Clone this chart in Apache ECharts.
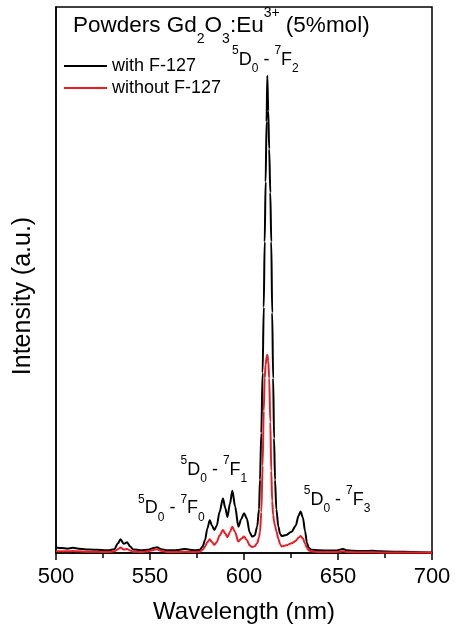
<!DOCTYPE html>
<html>
<head>
<meta charset="utf-8">
<script src="https://cdn.jsdelivr.net/npm/echarts@6/dist/echarts.min.js"></script>
<style>
  html, body { margin: 0; padding: 0; background: #fff; }
  #chart { width: 462px; height: 630px; }
</style>
</head>
<body>
<div id="chart"></div>
<script>
// Photoluminescence emission spectra of Gd2O3:Eu3+ powders (arbitrary units)
const wavelength = [
  500, 503, 506, 509, 512, 516, 520, 524, 528, 531,
  533, 534.3, 536, 537.8, 539.5, 541, 545, 549, 552, 553.7,
  556, 559, 563, 566, 568.5, 571, 574, 576.6, 578, 579.3,
  580.5, 581.8, 583, 584.2, 585.5, 587, 588.8, 590, 591.2, 592.5,
  593.8, 595.3, 597, 598.5, 600, 601.5, 603, 604.3, 605.7, 607,
  608, 608.5, 609.2, 609.9, 610.5, 611, 611.5, 612, 612.4, 612.9,
  613.4, 614, 614.5, 615, 615.5, 616, 616.5, 617.2, 618.3, 619.2,
  620.1, 622.5, 625.3, 627.5, 629, 630.1, 631.3, 632.5, 633.5, 634.5,
  636, 640, 645, 649, 651, 652.8, 654.5, 658, 663, 668,
  672, 680, 690, 700
];

const withF127 = [
  1.0, 0.9, 0.8, 0.95, 0.8, 0.65, 0.6, 0.55, 0.5, 0.7,
  1.8, 2.5, 1.7, 1.95, 1.2, 0.65, 0.5, 0.6, 0.9, 1.05,
  0.7, 0.5, 0.5, 0.6, 0.75, 0.6, 0.5, 0.6, 1.2, 2.4,
  4.5, 6.0, 5.0, 4.2, 5.0, 7.5, 10.0, 8.3, 6.6, 9.0,
  11.4, 8.5, 4.8, 6.2, 7.3, 6.3, 3.8, 3.0, 3.2, 4.8,
  8.0, 13.4, 22, 33, 45, 57, 68, 79, 87.4, 81,
  74, 66, 57, 44, 32, 21, 13.4, 8.0, 4.8, 3.5,
  3.1, 3.3, 3.9, 5.0, 6.8, 7.6, 6.5, 4.0, 1.8, 0.9,
  0.6, 0.5, 0.45, 0.45, 0.6, 0.75, 0.5, 0.4, 0.35, 0.4,
  0.3, 0.25, 0.2, 0.1
];

const withoutF127 = [
  0.3, 0.3, 0.3, 0.35, 0.3, 0.25, 0.25, 0.2, 0.2, 0.3,
  0.7, 1.0, 0.65, 0.75, 0.45, 0.25, 0.2, 0.3, 0.55, 0.7,
  0.4, 0.2, 0.2, 0.2, 0.25, 0.2, 0.2, 0.25, 0.6, 1.2,
  2.0, 2.5, 2.0, 1.5, 2.0, 3.2, 4.2, 3.6, 2.9, 3.8,
  4.8, 3.8, 2.1, 2.6, 3.0, 2.4, 1.4, 1.1, 1.25, 1.8,
  2.9, 3.8, 7.5, 16, 26, 32, 34.5, 35.8, 36.3, 35.2,
  32, 24, 15, 9.5, 7.0, 5.8, 5.0, 4.0, 2.6, 1.6,
  1.2, 1.4, 1.8, 2.2, 2.8, 3.1, 2.7, 1.7, 0.9, 0.45,
  0.3, 0.2, 0.2, 0.2, 0.25, 0.3, 0.2, 0.15, 0.15, 0.15,
  0.1, 0.1, 0.08, 0.05
];

const seriesNames = ['with F-127', 'without F-127'];
const seriesColors = ['#000000', '#ed1c24'];

// Transition labels: anchor wavelength, anchor intensity, J of the 7F_J level
const transitionNm = [611.4, 584, 561.4, 649.5];
const transitionLevel = [90.3, 15.2, 8.2, 9.7];
const transitionJ = ['2', '1', '0', '3'];

const xTicks = [500, 550, 600, 650, 700];

const FONT = '"Liberation Sans", Arial, Helvetica, sans-serif';

function pairs(xs, ys) {
  return xs.map((x, i) => [x, ys[i]]);
}

const chart = echarts.init(document.getElementById('chart'), null, { renderer: 'canvas' });

const annotationData = transitionNm.map((nm, i) => ({
  value: [nm, transitionLevel[i]],
  label: { formatter: '{sup|5}{m|D}{sub|0}{m| - }{sup|7}{m|F}{sub|' + transitionJ[i] + '}' }
}));

chart.setOption({
  animation: false,
  backgroundColor: '#ffffff',
  textStyle: { fontFamily: FONT, color: '#000' },
  title: {
    left: 73,
    top: 6,
    padding: 0,
    text: '{a|Powders Gd}{sub|2}{a|O}{sub|3}{a|:Eu}{sup|3+}{a| (5%mol)}',
    textStyle: {
      fontFamily: FONT,
      fontWeight: 'normal',
      rich: {
        a: { fontFamily: FONT, fontWeight: 'normal', fontSize: 22.5, lineHeight: 40, verticalAlign: 'middle', color: '#000' },
        sub: { fontFamily: FONT, fontWeight: 'normal', fontSize: 14, lineHeight: 20, verticalAlign: 'bottom', color: '#000' },
        sup: { fontFamily: FONT, fontWeight: 'normal', fontSize: 14, lineHeight: 14, verticalAlign: 'top', color: '#000' }
      }
    }
  },
  legend: {
    orient: 'vertical',
    left: 63,
    top: 56,
    padding: 0,
    itemWidth: 43,
    itemHeight: 20,
    itemGap: 2,
    data: seriesNames,
    itemStyle: { opacity: 0 },
    lineStyle: { width: 2 },
    textStyle: { fontFamily: FONT, fontSize: 18, color: '#000', lineHeight: 20 }
  },
  grid: {
    left: 56,
    right: 30,
    top: 7,
    bottom: 77,
    show: true,
    borderColor: '#000',
    borderWidth: 1.5,
    containLabel: false
  },
  xAxis: {
    type: 'value',
    min: xTicks[0],
    max: xTicks[xTicks.length - 1],
    interval: 50,
    name: 'Wavelength (nm)',
    nameLocation: 'middle',
    nameGap: 47,
    nameTextStyle: { fontFamily: FONT, fontSize: 24, color: '#000' },
    axisLine: { show: true, lineStyle: { color: '#000', width: 1.5 } },
    axisTick: { show: true, inside: false, length: 7, lineStyle: { color: '#000', width: 1.5 } },
    minorTick: { show: true, splitNumber: 2, length: 5, lineStyle: { color: '#000', width: 1.5 } },
    axisLabel: { fontFamily: FONT, fontSize: 22, color: '#000', margin: 13 },
    splitLine: { show: false }
  },
  yAxis: {
    type: 'value',
    min: 0,
    max: 100,
    name: 'Intensity (a.u.)',
    nameLocation: 'middle',
    nameGap: 20,
    nameTextStyle: { fontFamily: FONT, fontSize: 25, color: '#000', padding: [0, 32, 0, 0] },
    axisLine: { show: true, lineStyle: { color: '#000', width: 1.5 } },
    axisTick: { show: false },
    axisLabel: { show: false },
    splitLine: { show: false }
  },
  series: [
    {
      name: seriesNames[1],
      type: 'line',
      data: pairs(wavelength, withoutF127),
      symbol: 'none',
      smooth: 0.3,
      smoothMonotone: 'x',
      color: seriesColors[1],
      lineStyle: { color: seriesColors[1], width: 2 },
      z: 3
    },
    {
      name: seriesNames[0],
      type: 'line',
      data: pairs(wavelength, withF127),
      symbol: 'none',
      smooth: 0.3,
      smoothMonotone: 'x',
      color: seriesColors[0],
      lineStyle: { color: seriesColors[0], width: 2 },
      z: 2
    },
    {
      name: 'transitions',
      type: 'scatter',
      data: annotationData,
      symbolSize: 0,
      silent: true,
      z: 5,
      itemStyle: { opacity: 1 },
      label: {
        show: true,
        position: 'inside',
        color: '#000',
        opacity: 1,
        rich: {
          m: { fontFamily: FONT, fontSize: 18, lineHeight: 30, verticalAlign: 'middle', color: '#000' },
          sub: { fontFamily: FONT, fontSize: 12, lineHeight: 14, verticalAlign: 'bottom', color: '#000' },
          sup: { fontFamily: FONT, fontSize: 12, lineHeight: 16, verticalAlign: 'top', color: '#000' }
        }
      }
    }
  ]
});
</script>
</body>
</html>
